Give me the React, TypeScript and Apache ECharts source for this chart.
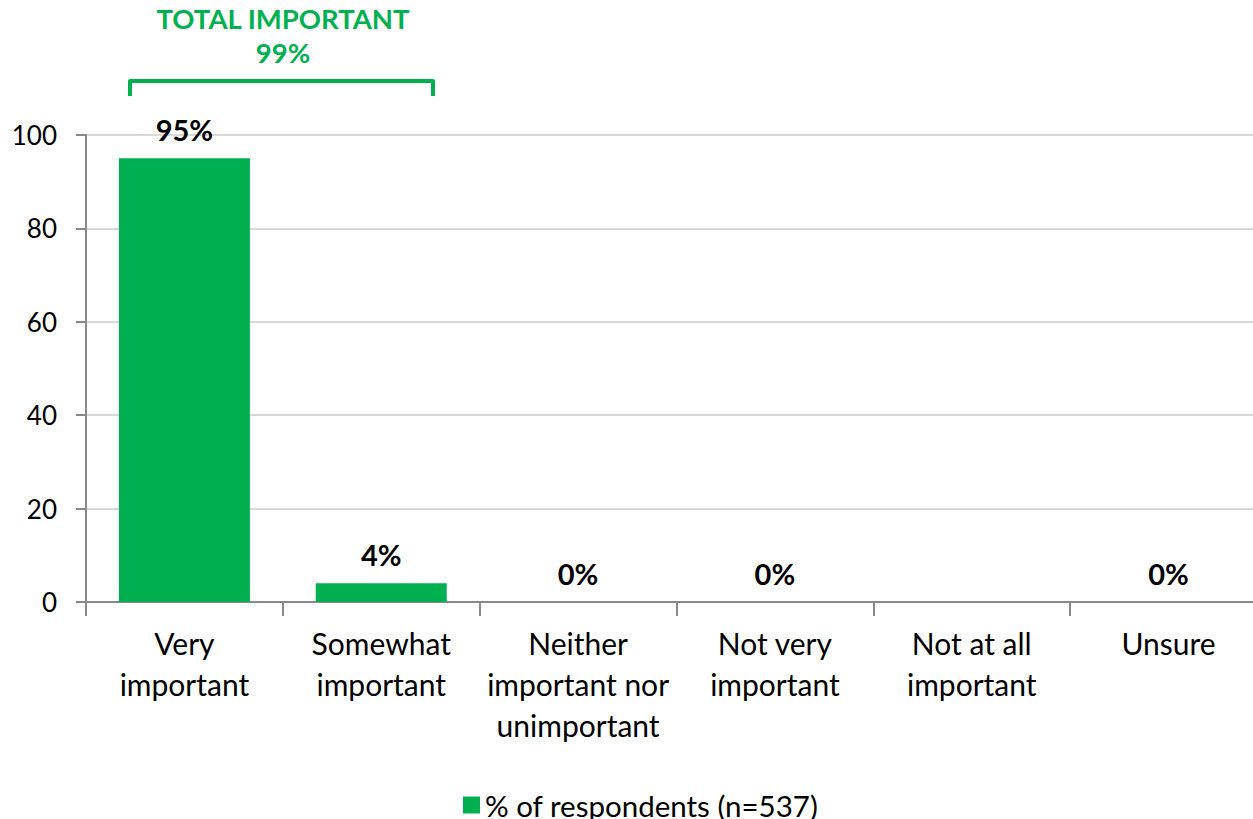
import React, { useEffect, useRef } from "react";
import * as echarts from "echarts";

const categories = [
  "Very\nimportant",
  "Somewhat\nimportant",
  "Neither\nimportant nor\nunimportant",
  "Not very\nimportant",
  "Not at all\nimportant",
  "Unsure",
];
const values: (number | null)[] = [95, 4, 0, 0, null, 0];
const seriesName = "% of respondents (n=537)";
const totalTitle = "TOTAL IMPORTANT";
const totalValue = "99%";
const yTicks = { min: 0, max: 100, interval: 20 };

const GREEN = "#00B050";
const FONT = "Lato, Carlito, Calibri, sans-serif";

export default function App() {
  const ref = useRef<HTMLDivElement>(null);
  useEffect(() => {
    if (!ref.current) return;
    const chart = echarts.init(ref.current, undefined, { renderer: "svg" });
    chart.setOption({
      animation: false,
      textStyle: { fontFamily: FONT },
      grid: { left: 86, top: 135, bottom: 217, right: 0, containLabel: false },
      legend: {
        left: 463,
        top: 790,
        padding: 0,
        icon: "rect",
        itemWidth: 17,
        itemHeight: 17,
        textStyle: { fontSize: 29.5, lineHeight: 28, color: "#000", fontFamily: FONT },
        data: [seriesName],
      },
      xAxis: {
        type: "category",
        data: categories,
        axisLine: { lineStyle: { color: "#898989", width: 2 } },
        axisTick: { show: true, length: 14, lineStyle: { color: "#898989", width: 2 } },
        axisLabel: {
          fontSize: 30,
          color: "#000",
          lineHeight: 41,
          margin: 20,
          interval: 0,
          fontFamily: FONT,
        },
      },
      yAxis: {
        type: "value",
        min: yTicks.min,
        max: yTicks.max,
        interval: yTicks.interval,
        axisLine: { show: true, lineStyle: { color: "#898989", width: 2 } },
        axisTick: { show: true, length: 10, lineStyle: { color: "#898989", width: 2 } },
        splitLine: { lineStyle: { color: "#d9d9d9", width: 2 } },
        axisLabel: { fontSize: 26, color: "#000", margin: 29, fontFamily: FONT },
      },
      series: [
        {
          name: seriesName,
          type: "bar",
          data: values,
          barWidth: 131,
          itemStyle: { color: GREEN },
          label: {
            show: true,
            position: "top",
            distance: 14,
            formatter: "{c}%",
            fontSize: 29,
            fontWeight: "bold",
            color: "#000",
            fontFamily: FONT,
          },
        },
      ],
      graphic: [
        {
          type: "polyline",
          shape: { points: [[130, 96], [130, 81], [433, 81], [433, 96]] },
          style: { stroke: GREEN, lineWidth: 4, fill: "none", lineJoin: "round", lineCap: "butt" },
        },
        {
          type: "text",
          x: 283,
          y: 18,
          style: {
            text: totalTitle,
            fill: GREEN,
            fontSize: 27.5,
            fontWeight: "bold",
            fontFamily: FONT,
            align: "center",
            verticalAlign: "middle",
          },
        },
        {
          type: "text",
          x: 283,
          y: 52,
          style: {
            text: totalValue,
            fill: GREEN,
            fontSize: 27.5,
            fontWeight: "bold",
            fontFamily: FONT,
            align: "center",
            verticalAlign: "middle",
          },
        },
      ],
    });
    return () => chart.dispose();
  }, []);
  return (
    <div
      ref={ref}
      style={{ position: "fixed", left: 0, top: 0, width: 1267, height: 819, background: "#fff" }}
    />
  );
}
